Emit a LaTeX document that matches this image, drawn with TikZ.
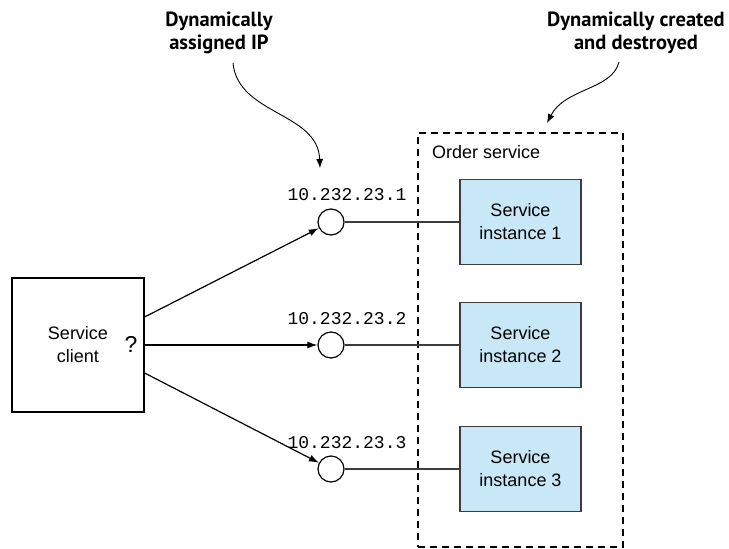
\documentclass[tikz,border=0pt]{standalone}
\usepackage{fontspec}
\setmainfont{Liberation Sans}
\newfontfamily\ipfont{Liberation Mono}
\newfontfamily\notefont{PT Sans}
\usetikzlibrary{positioning, arrows.meta, calc}
\definecolor{InstanceBlue}{HTML}{C8E8F8}
\definecolor{EdgeGrey}{HTML}{3C3C3C}

\begin{document}
\begin{tikzpicture}[
    x=1pt, y=-1pt,
    client/.style={draw, line width=1.2pt, minimum width=132, minimum height=134, align=center, font=\fontsize{18}{23}\selectfont},
    instance/.style={draw=EdgeGrey, fill=InstanceBlue, line width=1.2pt, minimum width=121, minimum height=85, align=center, font=\fontsize{18}{23}\selectfont},
    endpoint/.style={circle, draw, fill=white, line width=1.2pt, minimum size=26, inner sep=0pt},
    iplabel/.style={font=\ipfont\fontsize{18}{20}\selectfont, inner sep=0pt},
    note/.style={font=\notefont\bfseries\fontsize{20.5}{23}\selectfont, align=center, inner sep=0pt},
    req/.style={-{Latex[length=10pt,width=7pt]}, line width=1.2pt},
    wire/.style={line width=1.2pt, EdgeGrey},
    hint/.style={-{Latex[length=9pt,width=7pt]}, line width=0.9pt},
    group/.style={draw, line width=1.2pt, dash pattern=on 7pt off 5pt, minimum width=205, minimum height=414}
]
  \useasboundingbox (0,0) rectangle (729,549);
  % Order service group
  \node[group] (order) at (520.5,340) {};
  \node[anchor=west, inner sep=0pt, font=\fontsize{18}{23}\selectfont] (ordername) at (432,152) {Order service};
  % Service instances
  \node[instance] (s1) at (520.5,222) {Service\\instance 1};
  \node[instance] (s2) at (520.5,345) {Service\\instance 2};
  \node[instance] (s3) at (520.5,469) {Service\\instance 3};
  % Endpoints
  \node[endpoint] (c1) at (331,222) {};
  \node[endpoint] (c2) at (331,345) {};
  \node[endpoint] (c3) at (331,469) {};
  \node[iplabel] (ip1) at (347,195) {10.232.23.1};
  \node[iplabel] (ip2) at (347,319) {10.232.23.2};
  \node[iplabel] (ip3) at (347,443) {10.232.23.3};
  % Client
  \node[client] (client) at (78,345) {Service\\client};
  \node[font=\fontsize{23}{26}\selectfont, inner sep=0pt] (ask) at (131,344) {?};
  % Links
  \draw[wire] (c1) -- (s1); \draw[wire] (c2) -- (s2); \draw[wire] (c3) -- (s3);
  \draw[req] ([yshift=28]client.east) -- (c1);
  \draw[req] (client.east) -- (c2);
  \draw[req] ([yshift=-28]client.east) -- (c3);
  % Notes
  \node[note] (n1) at (219,33) {Dynamically\\assigned IP};
  \node[note] (n2) at (636,33) {Dynamically created\\and destroyed};
  \coordinate (a1) at (233,63);
  \coordinate (t1) at (320,168);
  \coordinate (a2) at (619,62);
  \coordinate (t2) at (547,123);
  \draw[hint] (a1) .. controls (238,115) and (318,112) .. (t1);
  \draw[hint] (a2) .. controls (612,90) and (565,88) .. (t2);
\end{tikzpicture}
\end{document}
